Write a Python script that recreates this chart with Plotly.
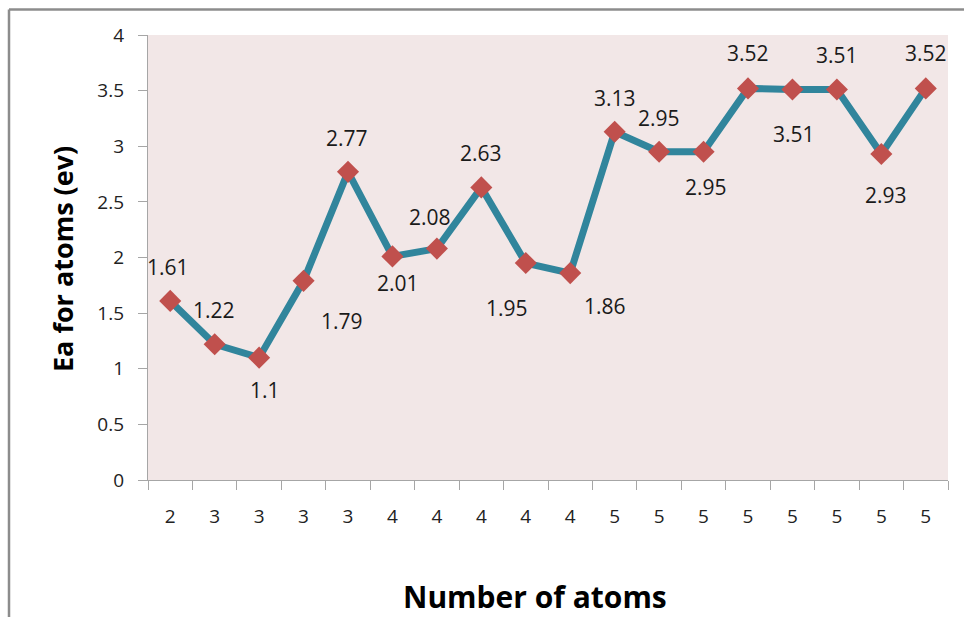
import plotly.graph_objects as go

# Data
atoms = ["2", "3", "3", "3", "3", "4", "4", "4", "4", "4", "5", "5", "5", "5", "5", "5", "5", "5"]
ea_values = [1.61, 1.22, 1.1, 1.79, 2.77, 2.01, 2.08, 2.63, 1.95, 1.86,
             3.13, 2.95, 2.95, 3.52, 3.51, 3.51, 2.93, 3.52]
y_ticks = [0, 0.5, 1, 1.5, 2, 2.5, 3, 3.5, 4]
x_title = "Number of atoms"
y_title = "Ea for atoms (ev)"

# label offsets (pixels): (dx, dy) with dy positive = up
label_offsets = [(-2, 34), (-1, 34), (6, -32), (38, -40), (-1, 34), (6, -27),
                 (-7, 32), (0, 34), (-19, -45), (35, -33), (0, 34), (0, 34),
                 (2, -35), (0, 35), (2, -44), (0, 35), (5, -41), (0, 35)]

xs = list(range(len(ea_values)))

fig = go.Figure()
fig.add_trace(go.Scatter(
    x=xs, y=ea_values, mode="lines+markers",
    line=dict(color="#31859C", width=7),
    marker=dict(symbol="diamond", size=17, color="#C0504D", line=dict(width=0)),
    hoverinfo="y", showlegend=False,
))

for x, v, (dx, dy) in zip(xs, ea_values, label_offsets):
    fig.add_annotation(x=x, y=v, text=f"{v:g}", showarrow=False,
                       xshift=dx, yshift=dy,
                       font=dict(family="Open Sans", size=21, color="#1A1A1A"))

boundaries = [i - 0.5 for i in range(len(ea_values) + 1)]

fig.update_layout(
    width=964, height=617,
    margin=dict(l=148, r=16, t=35, b=137),
    paper_bgcolor="white", plot_bgcolor="#F2E7E7",
    xaxis=dict(
        range=[-0.5, len(ea_values) - 0.5],
        tickmode="array", tickvals=xs, ticktext=atoms,
        ticks="outside", ticklen=0, tickcolor="#A6A6A6",
        ticklabelstandoff=19,
        minor=dict(tickmode="array", tickvals=boundaries, ticks="outside",
                   ticklen=9, tickcolor="#A6A6A6", tickwidth=1.3, showgrid=False),
        showline=True, linecolor="#A6A6A6", linewidth=1.3,
        showgrid=False, zeroline=False,
        tickfont=dict(family="Open Sans", size=19, color="#222222"),
    ),
    yaxis=dict(
        range=[0, 4], tickmode="array", tickvals=y_ticks,
        ticktext=[f"{t:g}" for t in y_ticks],
        ticks="outside", ticklen=9, tickcolor="#A6A6A6", tickwidth=1.3,
        ticklabelstandoff=10,
        showline=True, linecolor="#A6A6A6", linewidth=1.3,
        showgrid=False, zeroline=False,
        tickfont=dict(family="Open Sans", size=19, color="#222222"),
    ),
)

# axis titles
fig.add_annotation(xref="paper", yref="paper", x=(535 - 148) / 800, y=(480 - 596) / 445,
                   text=f"<b>{x_title}</b>", showarrow=False,
                   xanchor="center", yanchor="middle",
                   font=dict(family="Open Sans", size=30, color="#000000"))
fig.add_annotation(xref="paper", yref="paper", x=(62 - 148) / 800, y=(480 - 259) / 445,
                   text=f"<b>{y_title}</b>", showarrow=False, textangle=-90,
                   xanchor="center", yanchor="middle",
                   font=dict(family="Open Sans", size=27, color="#000000"))

# outer chart border (top and left visible)
fig.add_shape(type="line", xref="paper", yref="paper",
              x0=(9 - 148) / 800, x1=(1000 - 148) / 800,
              y0=(480 - 9.5) / 445, y1=(480 - 9.5) / 445,
              line=dict(color="#8C8C8C", width=2.5))
fig.add_shape(type="line", xref="paper", yref="paper",
              x0=(9 - 148) / 800, x1=(9 - 148) / 800,
              y0=(480 - 9.5) / 445, y1=(480 - 700) / 445,
              line=dict(color="#8C8C8C", width=2.5))

fig.write_html("out.html")
